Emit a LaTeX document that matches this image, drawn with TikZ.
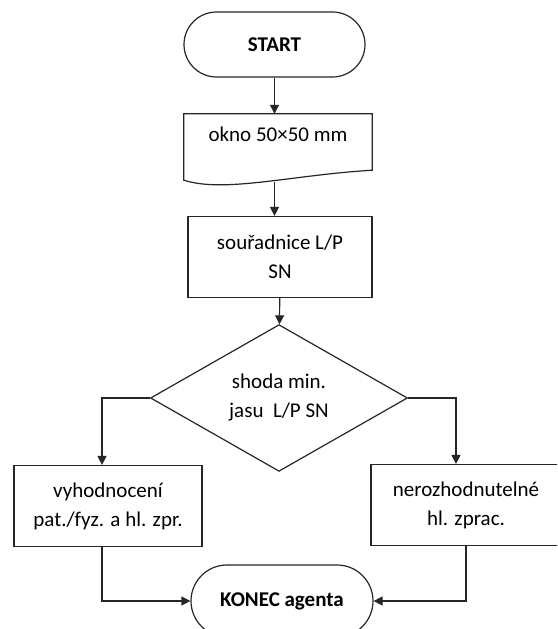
\documentclass[tikz,border=0pt]{standalone}
\usepackage{fontspec}
\setmainfont{Carlito}
\usetikzlibrary{arrows.meta,calc,shapes.geometric}
\newcommand{\chartfont}{\fontsize{21}{29}\selectfont}
\tikzset{
  outline/.style={draw=black!85, line width=1.2pt},
  terminal/.style={outline, rounded corners=#1, minimum height=2*#1,
    align=center, font=\chartfont\bfseries},
  docbox/.style={minimum width=188pt, minimum height=66pt, text depth=25pt},
  procbox/.style={outline, minimum height=81pt, align=center},
  decision/.style={outline, diamond, minimum width=257pt,
    minimum height=129pt, inner sep=0pt, align=center},
  arrow/.style={-{Triangle[length=9pt,width=9pt]}, line width=1.2pt, black!85}
}
\begin{document}
\begin{tikzpicture}[x=1pt, y=1pt, font=\chartfont]
  \fill[white] (0,0) rectangle (557,629);
  \clip (0,0) rectangle (557,629);
  \node[terminal=32.5pt, minimum width=181pt] (start) at (274.5,584.5) {START};
  \node[docbox] (okno) at (278,482) {okno 50×50 mm};
  \draw[outline] (okno.north west) -- (okno.north east) -- ([yshift=10pt]okno.south east)
    .. controls +(-82,-5) and +(41,-13) .. (okno.south west) -- cycle;
  \node[procbox, minimum width=184pt] (coords) at (280,372) {souřadnice L/P\\SN};
  \node[decision] (match) at (279,231) {shoda min.\\jasu~ L/P SN};
  \node[procbox, minimum width=188pt] (eval) at (108,123) {vyhodnocení\\pat./fyz. a hl. zpr.};
  \node[procbox, minimum width=190pt] (undecided) at (466,124) {nerozhodnutelné\\hl. zprac.};
  \node[terminal=36pt, minimum width=182pt] (finish) at (282,28) {KONEC agenta};
  % main column
  \draw[arrow] (start) -- (start |- okno.north);
  \draw[arrow] ([yshift=-2pt]okno.south -| start) -- (coords.north -| start);
  \draw[arrow] (coords) -- (match);
  % branches
  \draw[arrow] (match.west) -| ([xshift=-6pt]eval.north);
  \draw[arrow] (match.east) -| ([xshift=-10pt]undecided.north);
  \draw[arrow] ([xshift=-6pt]eval.south) |- (finish.west);
  \draw[arrow] (undecided.south) |- (finish.east);
\end{tikzpicture}
\end{document}
